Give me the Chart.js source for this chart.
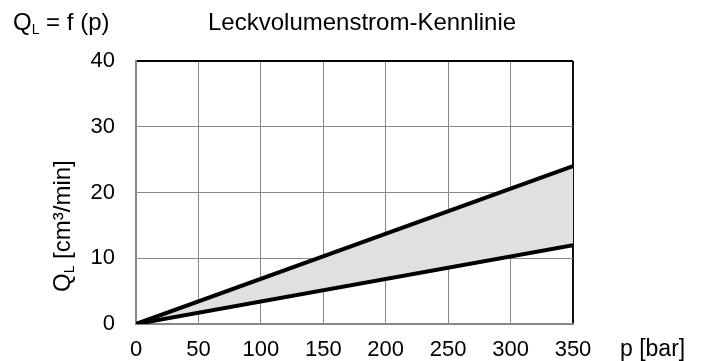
<!DOCTYPE html>
<html><head><meta charset="utf-8">
<script src="https://cdn.jsdelivr.net/npm/chart.js@4/dist/chart.umd.min.js"></script>
<style>html,body{margin:0;padding:0;background:#fff;}canvas{display:block;}</style>
</head><body>
<canvas id="c" width="702" height="361"></canvas>
<script>
const pressure = [0, 350];
const upperLeak = [0, 24];
const lowerLeak = [0, 12];
const xTicks = [0, 50, 100, 150, 200, 250, 300, 350];
const yTicks = [0, 10, 20, 30, 40];
const chartTitle = 'Leckvolumenstrom-Kennlinie';
const xTitle = 'p [bar]';
const FONT = '"Liberation Sans", Arial, sans-serif';
const FS = 22;   // tick labels
const TS = 24;   // titles

function drawQL(ctx, x, y, size) {
  ctx.font = size + 'px ' + FONT;
  ctx.fillText('Q', x, y);
  const w = ctx.measureText('Q').width;
  ctx.font = Math.round(size * 0.6) + 'px ' + FONT;
  ctx.fillText('L', x + w, y + size * 0.18);
  return w + ctx.measureText('L').width;
}

const textPlugin = {
  id: 'texts',
  afterDraw(chart) {
    const ctx = chart.ctx;
    ctx.save();
    ctx.fillStyle = '#000';
    ctx.textBaseline = 'alphabetic';
    ctx.textAlign = 'left';
    let w = drawQL(ctx, 13, 30, TS);
    ctx.font = TS + 'px ' + FONT;
    ctx.fillText(' = f (p)', 13 + w, 30);
    ctx.fillText(chartTitle, 208, 30);
    ctx.font = '23px ' + FONT;
    ctx.fillText(xTitle, 620, 356);
    // y title rotated
    ctx.translate(70, 292);
    ctx.rotate(-Math.PI / 2);
    const ww = drawQL(ctx, 0, 0, TS);
    ctx.font = TS + 'px ' + FONT;
    ctx.fillText(' [cm³/min]', ww, 0);
    ctx.restore();
  }
};

new Chart(document.getElementById('c'), {
  type: 'scatter',
  data: {
    datasets: [
      {
        label: 'upper',
        data: pressure.map((p, i) => ({x: p, y: upperLeak[i]})),
        showLine: true,
        borderColor: '#000',
        borderWidth: 4,
        pointRadius: 0,
        fill: '+1',
        backgroundColor: '#e0e0e0'
      },
      {
        label: 'lower',
        data: pressure.map((p, i) => ({x: p, y: lowerLeak[i]})),
        showLine: true,
        borderColor: '#000',
        borderWidth: 4,
        pointRadius: 0,
        fill: false
      }
    ]
  },
  options: {
    responsive: false,
    animation: false,
    layout: {padding: {left: 0, right: 129, top: 61, bottom: 0}},
    plugins: {legend: {display: false}, tooltip: {enabled: false}, filler: {drawTime: 'beforeDatasetsDraw'}},
    scales: {
      x: {
        type: 'linear', min: 0, max: 350,
        afterBuildTicks(s) { s.ticks = xTicks.map(v => ({value: v})); },
        afterFit(s) { s.height = 37; },
        border: {color: '#888', width: 2},
        grid: {
          drawTicks: false,
          color: c => (c.tick && c.tick.value === 350 ? '#111' : '#888'),
          lineWidth: c => (c.tick && c.tick.value === 350 ? 2 : 1)
        },
        ticks: {color: '#000', padding: 13, font: {family: FONT, size: FS}, maxRotation: 0}
      },
      y: {
        type: 'linear', min: 0, max: 40,
        afterBuildTicks(s) { s.ticks = yTicks.map(v => ({value: v})); },
        afterFit(s) { s.width = 136; },
        border: {color: '#888', width: 2},
        grid: {
          drawTicks: false,
          color: c => (c.tick && c.tick.value === 40 ? '#000' : '#888'),
          lineWidth: c => (c.tick && c.tick.value === 40 ? 2 : 1)
        },
        ticks: {color: '#000', padding: 21, font: {family: FONT, size: FS}}
      }
    }
  },
  plugins: [textPlugin]
});
</script>
</body></html>
